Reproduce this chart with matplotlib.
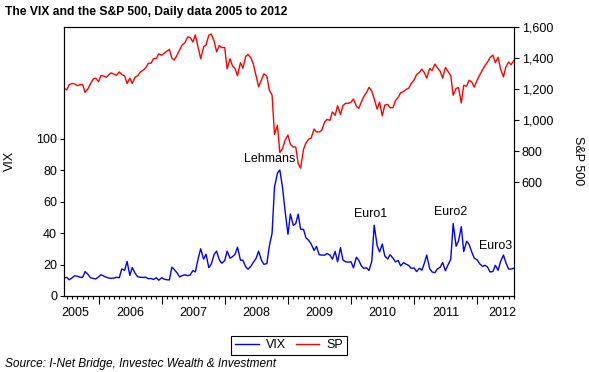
import numpy as np
import pandas as pd
import matplotlib
matplotlib.use('Agg')
import matplotlib.pyplot as plt
import matplotlib.dates as mdates
from matplotlib.ticker import NullFormatter, FuncFormatter

plt.rcParams['font.family'] = ['Liberation Sans', 'DejaVu Sans']

# ------------------------------------------------------------
# data: values, on the 1st and 15th of each month
# ------------------------------------------------------------
dates = pd.date_range('2005-06-15', '2012-08-01', freq='SMS')

sp_2005 = [1206, 1194, 1228, 1236, 1233, 1221, 1228, 1228, 1178, 1203, 1233, 1265, 1270]
sp_2006 = [1248, 1287, 1283, 1276, 1291, 1304, 1295, 1289, 1310, 1294, 1285, 1235,
           1270, 1236, 1278, 1285, 1311, 1321, 1336, 1365, 1367, 1396, 1396, 1427]
sp_2007 = [1418, 1431, 1445, 1456, 1400, 1387, 1420, 1452, 1486, 1497, 1536, 1532,
           1503, 1549, 1465, 1395, 1473, 1484, 1547, 1555, 1508, 1440, 1481, 1467]
sp_2008 = [1468, 1330, 1395, 1349, 1331, 1285, 1370, 1334, 1409, 1423, 1400, 1360,
           1284, 1215, 1260, 1298, 1283, 1193, 1161, 907, 966, 790, 816, 868]
sp_2009 = [903, 843, 826, 826, 720, 690, 811, 852, 877, 883, 942, 923,
           923, 932, 987, 1004, 998, 1052, 1030, 1092, 1036, 1093, 1108, 1107]
sp_2010 = [1115, 1136, 1089, 1075, 1115, 1150, 1178, 1211, 1187, 1136, 1070, 1115,
           1027, 1096, 1101, 1079, 1080, 1125, 1146, 1176, 1184, 1197, 1206, 1236]
sp_2011 = [1258, 1293, 1307, 1328, 1306, 1270, 1332, 1319, 1361, 1338, 1314, 1270,
           1339, 1316, 1287, 1160, 1204, 1209, 1110, 1224, 1218, 1257, 1244, 1212]
sp_2012 = [1258, 1289, 1324, 1351, 1374, 1402, 1419, 1370, 1405, 1330, 1278, 1343,
           1374, 1357, 1385]

vix_2005 = [11.5, 11.8, 10.3, 11.5, 12.8, 12.6, 11.9, 11.9, 15.5, 13.7, 11.6, 11.2, 10.8]
vix_2006 = [12.1, 13.5, 12.6, 11.9, 11.4, 11.2, 11.4, 11.9, 11.6, 17.2, 16.3, 22.0,
            13.1, 18.1, 14.3, 12.3, 11.9, 11.8, 11.9, 11.0, 11.1, 10.5, 11.6, 10.0]
vix_2007 = [11.6, 10.7, 10.3, 10.2, 18.3, 16.8, 14.6, 12.1, 13.0, 13.5, 12.9, 13.3,
            16.2, 15.3, 24.0, 30.0, 23.4, 26.5, 18.0, 20.2, 26.5, 28.5, 22.9, 20.8]
vix_2008 = [22.5, 28.5, 24.0, 25.0, 26.5, 31.0, 22.7, 22.8, 18.6, 17.0, 19.0, 21.4,
            24.0, 28.5, 22.6, 20.1, 20.6, 31.7, 39.8, 69.0, 78.0, 80.0, 68.5, 54.3]
vix_2009 = [39.2, 52.0, 44.8, 46.0, 52.0, 42.4, 42.3, 37.0, 35.3, 33.1, 28.9, 31.5,
            26.2, 26.0, 25.9, 27.0, 26.0, 23.4, 28.3, 21.7, 30.7, 22.9, 21.7, 21.5]
vix_2010 = [21.7, 17.9, 24.6, 22.7, 19.2, 17.6, 17.9, 16.2, 22.0, 45.0, 32.0, 28.0,
            33.0, 25.5, 23.5, 26.2, 24.0, 21.7, 22.5, 19.1, 21.2, 20.2, 19.4, 17.6]
vix_2011 = [17.8, 15.5, 17.6, 16.4, 20.7, 26.0, 17.4, 15.3, 14.8, 17.1, 18.3, 21.3,
            16.0, 19.5, 23.4, 46.0, 31.6, 35.0, 44.0, 28.2, 34.8, 32.8, 27.8, 24.0]
vix_2012 = [22.9, 20.5, 18.8, 19.5, 18.4, 15.3, 15.5, 19.5, 16.3, 21.9, 26.0, 21.1,
            17.1, 17.1, 17.6]

sp = sp_2005 + sp_2006 + sp_2007 + sp_2008 + sp_2009 + sp_2010 + sp_2011 + sp_2012
vix = vix_2005 + vix_2006 + vix_2007 + vix_2008 + vix_2009 + vix_2010 + vix_2011 + vix_2012

year_labels = ['2005', '2006', '2007', '2008', '2009', '2010', '2011', '2012']
year_label_dates = ['2005-08-19', '2006-07-01', '2007-07-01', '2008-07-01',
                    '2009-07-01', '2010-07-01', '2011-07-01', '2012-05-23']

events = ['Lehmans', 'Euro1', 'Euro2', 'Euro3']
event_dates = ['2008-09-17', '2010-04-26', '2011-07-30', '2012-04-15']
event_vix = [87, 52, 53.3, 31.7]

# ------------------------------------------------------------
# figure
# ------------------------------------------------------------
W, H = 589, 372
fig = plt.figure(figsize=(W / 100, H / 100), dpi=100)
ax = fig.add_axes([64 / W, 76 / H, 450 / W, 269 / H])
ax2 = ax.twinx()

l1, = ax.plot(dates, vix, color='#0000FF', lw=1.0, label='VIX')
l2, = ax2.plot(dates, sp, color='#FF0000', lw=1.0, label='SP')

ax.set_xlim(dates[0], dates[-1])
ax.set_ylim(0, 170.8)
ax.set_yticks(range(0, 101, 20))
ax2.set_ylim(-135, 1600)
ax2.set_yticks(range(600, 1601, 200))
ax2.yaxis.set_major_formatter(FuncFormatter(lambda v, p: f'{int(v):,}'))

ax.xaxis.set_major_locator(mdates.YearLocator())
ax.xaxis.set_minor_locator(mdates.MonthLocator())
ax.xaxis.set_major_formatter(NullFormatter())
ax.tick_params(axis='x', which='major', direction='out', length=5.5, width=0.8)
ax.tick_params(axis='x', which='minor', direction='out', length=2.5, width=0.8)
ax.tick_params(axis='y', direction='out', length=3, width=0.8, labelsize=9, pad=2)
ax2.tick_params(axis='y', direction='out', length=3.5, width=0.8, labelsize=9, pad=2)

for a in (ax, ax2):
    for s in a.spines.values():
        s.set_linewidth(0.8)
        s.set_color('black')

# year labels sit between the year ticks
for lab, d in zip(year_labels, year_label_dates):
    ax.text(pd.Timestamp(d), -0.062, lab, transform=ax.get_xaxis_transform(),
            ha='center', va='center', fontsize=9)

# event labels
for lab, d, v in zip(events, event_dates, event_vix):
    ax2.text(pd.Timestamp(d), v, lab, transform=ax.transData,
             ha='center', va='center', fontsize=9, color='black', zorder=5)

fig.text(10 / W, 1 - 161 / H, 'VIX', rotation=90, ha='center', va='center', fontsize=9)
fig.text(578 / W, 1 - 161 / H, 'S&P 500', rotation=270, ha='center', va='center', fontsize=9)

fig.text(5 / W, 1 - 15.3 / H, 'The VIX and the S&P 500, Daily data 2005 to 2012',
         fontweight='bold', fontsize=8.7, va='baseline', ha='left')
fig.text(5 / W, 1 - 366.7 / H, 'Source: I-Net Bridge, Investec Wealth & Investment',
         style='italic', fontsize=8.6, va='baseline', ha='left')

leg = fig.legend([l1, l2], ['VIX', 'SP'], loc='center',
                 bbox_to_anchor=(289 / W, 1 - 345.5 / H), ncol=2, fontsize=9,
                 frameon=True, fancybox=False, framealpha=1, edgecolor='black',
                 handlelength=1.9, handletextpad=0.55, columnspacing=0.8,
                 borderpad=0.3)
leg.get_frame().set_linewidth(0.8)

fig.savefig('out.png', dpi=100)
